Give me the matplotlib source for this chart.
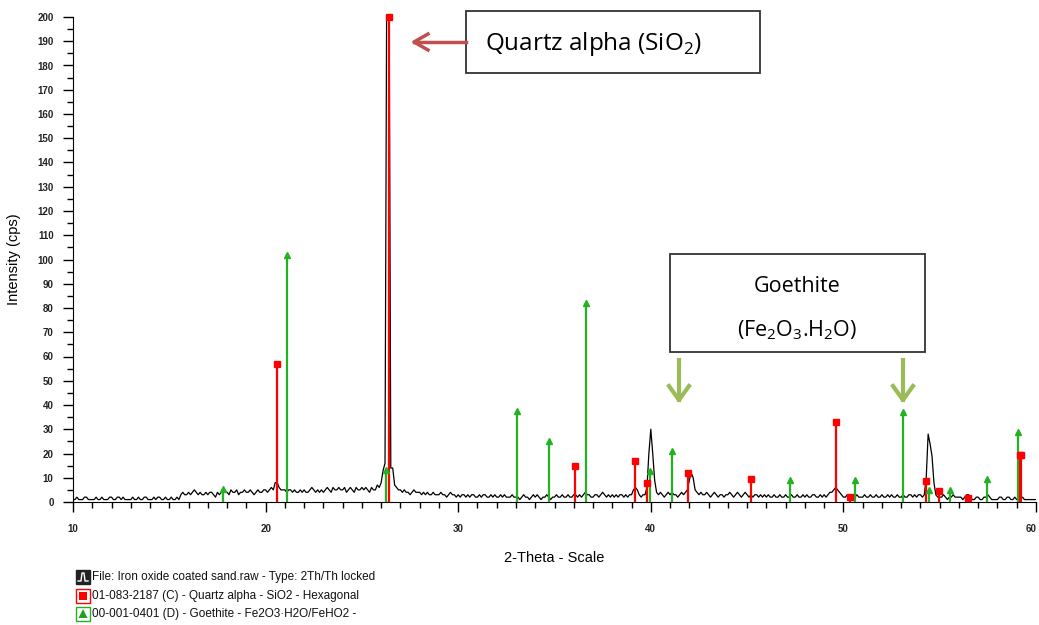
import matplotlib.pyplot as plt
import numpy as np
from matplotlib.patches import Rectangle, Polygon

plt.rcParams['font.family'] = ['Liberation Sans', 'DejaVu Sans']
plt.rcParams['mathtext.fontset'] = 'custom'
plt.rcParams['mathtext.rm'] = 'Open Sans'

# Patrón medido (paso 0.1 grados, 10 a 60)
theta_start, theta_step = 10.0, 0.1
counts = [
    1, 1, 2, 1, 1, 1, 2, 2, 1, 1,
    1, 1, 2, 1, 1, 2, 1, 1, 1, 2,
    2, 1, 1, 2, 2, 1, 2, 1, 1, 1,
    1, 2, 1, 1, 2, 1, 1, 2, 2, 1,
    1, 1, 2, 1, 2, 2, 1, 1, 2, 1,
    1, 2, 1, 1, 2, 1, 3, 4, 3, 3,
    4, 3, 4, 5, 4, 3, 4, 3, 3, 4,
    3, 4, 4, 3, 2, 4, 3, 4, 5, 4,
    4, 3, 5, 4, 4, 5, 3, 4, 4, 5,
    4, 4, 5, 4, 3, 4, 5, 4, 4, 5,
    5, 4, 5, 6, 5, 8, 8, 6, 5, 5,
    5, 4, 5, 5, 4, 5, 4, 4, 5, 4,
    5, 4, 4, 5, 6, 5, 4, 5, 4, 5,
    4, 5, 6, 5, 4, 6, 5, 5, 6, 5,
    5, 6, 4, 5, 6, 5, 4, 6, 5, 5,
    6, 5, 6, 5, 4, 6, 5, 5, 7, 6,
    8, 13, 16, 240, 240, 14, 14, 7, 6, 5,
    5, 4, 5, 4, 4, 3, 4, 5, 4, 4,
    4, 3, 4, 3, 4, 3, 3, 4, 3, 3,
    3, 4, 3, 3, 2, 3, 4, 3, 3, 2,
    3, 2, 3, 3, 2, 3, 2, 3, 3, 2,
    2, 3, 2, 3, 3, 2, 2, 3, 2, 3,
    2, 2, 3, 2, 3, 2, 2, 2, 3, 2,
    2, 2, 1, 2, 3, 2, 2, 1, 2, 3,
    2, 3, 2, 1, 2, 2, 3, 2, 1, 2,
    2, 3, 2, 2, 3, 2, 2, 3, 2, 2,
    3, 3, 2, 3, 2, 3, 4, 3, 3, 2,
    2, 3, 3, 2, 3, 4, 3, 2, 3, 2,
    3, 2, 3, 2, 3, 3, 2, 3, 2, 3,
    3, 5, 6, 5, 3, 2, 3, 3, 6, 20,
    30, 20, 9, 4, 3, 4, 3, 2, 3, 4,
    3, 4, 3, 3, 2, 3, 4, 3, 4, 5,
    9, 12, 10, 5, 4, 3, 4, 3, 3, 4,
    3, 2, 3, 4, 3, 2, 3, 3, 2, 3,
    3, 4, 3, 2, 3, 4, 3, 2, 3, 4,
    3, 2, 3, 2, 3, 3, 2, 3, 2, 3,
    2, 3, 2, 2, 3, 2, 2, 3, 2, 2,
    3, 2, 2, 3, 2, 2, 3, 2, 2, 3,
    2, 3, 2, 2, 3, 3, 2, 2, 3, 2,
    3, 2, 3, 4, 4, 5, 6, 5, 4, 3,
    2, 2, 3, 2, 2, 3, 2, 3, 2, 2,
    2, 3, 2, 2, 3, 2, 2, 3, 2, 2,
    3, 2, 2, 3, 2, 3, 2, 2, 3, 2,
    2, 3, 2, 2, 3, 3, 2, 3, 2, 3,
    3, 2, 3, 10, 28, 24, 19, 8, 3, 2,
    2, 2, 3, 2, 1, 2, 2, 3, 2, 2,
    2, 2, 1, 2, 3, 3, 2, 1, 1, 2,
    2, 1, 1, 2, 2, 3, 2, 1, 1, 1,
    1, 2, 2, 1, 1, 2, 2, 1, 1, 2,
    1, 1, 2, 2, 1, 1, 1, 1, 1, 1,
    1,
]
theta = theta_start + theta_step * np.arange(len(counts))

# Cuarzo alfa (rojo)
quartz_pos = [20.60, 26.39, 36.09, 39.18, 39.79, 41.91, 45.22, 49.64, 50.34,
              54.28, 54.95, 56.47, 59.17, 59.24]
quartz_int = [57, 200, 15, 17, 8, 12, 9.5, 33, 2, 8.5, 4.5, 1.6, 19.5, 19.5]

# Goethita (verde)
goe_pos = [17.80, 21.10, 26.23, 33.05, 34.69, 36.61, 39.98, 41.12, 47.22,
           50.60, 53.10, 54.45, 55.54, 57.44, 59.05]
goe_int = [5.5, 102, 13, 37.5, 25, 82, 12.8, 21, 9, 9, 37, 5, 5, 9.5, 29]

W, H = 1039, 625
fig = plt.figure(figsize=(W / 100, H / 100), dpi=100)
ax = fig.add_axes([73 / W, 1 - 502 / H, (1036 - 73) / W, (502 - 17) / H])


def fx(px):
    return px / W


def fy(py):
    return 1 - py / H


ax.plot(theta, counts, color='black', lw=0.9, zorder=2)
ax.vlines(goe_pos, 0, goe_int, color='#22b222', lw=1.6, zorder=3)
ax.plot(goe_pos, goe_int, '^', color='#22b222', ms=4.5, clip_on=False, zorder=4)
ax.vlines(quartz_pos, 0, quartz_int, color='#ff0000', lw=1.6, zorder=3)
ax.plot(quartz_pos, quartz_int, 's', color='#ff0000', ms=5, clip_on=False, zorder=4)

ax.set_xlim(10, 60)
ax.set_ylim(0, 200)
ax.set_xticks(np.arange(10, 61, 10))
ax.set_xticks(np.arange(10, 61, 1), minor=True)
ax.set_yticks(np.arange(0, 201, 10))
ax.set_yticks(np.arange(0, 201, 5), minor=True)
ax.tick_params(axis='both', which='major', length=7, width=1, labelsize=7,
               labelcolor='#222222')
ax.tick_params(axis='both', which='minor', length=4, width=1)
ax.tick_params(axis='y', pad=7)
ax.tick_params(axis='x', pad=9)
for lab in ax.get_xticklabels() + ax.get_yticklabels():
    lab.set_fontweight('bold')
ax.get_xticklabels()[-1].set_ha('right')
ax.spines['top'].set_visible(False)
ax.spines['right'].set_visible(False)

ax.set_xlabel("2-Theta - Scale", fontsize=10.5, labelpad=12)
ax.set_ylabel("Intensity (cps)", fontsize=10.5, labelpad=12)

# Cuadro cuarzo + flecha
fig.add_artist(Rectangle((fx(466), fy(73)), fx(294), 62 / H, fill=False,
                         ec='#333333', lw=1.3, transform=fig.transFigure))
fig.text(fx(485), fy(44), r"Quartz alpha (SiO$_2$)", fontsize=17.5,
         family='Open Sans', va='center', ha='left')
fig.add_artist(plt.Line2D([fx(414), fx(466)], [fy(42), fy(42)],
                          color='#c0504d', lw=2.5, transform=fig.transFigure))
fig.add_artist(plt.Line2D([fx(428), fx(414), fx(428)], [fy(34), fy(42), fy(50)],
                          color='#c0504d', lw=2.5, transform=fig.transFigure))

# Cuadro goetita + flechas
fig.add_artist(Rectangle((fx(670), fy(352)), fx(255), 98 / H, fill=False,
                         ec='#333333', lw=1.3, transform=fig.transFigure))
fig.text(fx(797), fy(286), "Goethite", fontsize=15.5, family='Open Sans',
         va='center', ha='center')
fig.text(fx(797), fy(330), r"(Fe$_2$O$_3$.H$_2$O)", fontsize=15.5,
         family='Open Sans', va='center', ha='center')
for px in [679, 903]:
    fig.add_artist(plt.Line2D([fx(px), fx(px)], [fy(360), fy(400)],
                              color='#9bbb59', lw=3, transform=fig.transFigure))
    fig.add_artist(plt.Line2D([fx(px - 10), fx(px), fx(px + 10)],
                              [fy(386), fy(400), fy(386)],
                              color='#9bbb59', lw=3, transform=fig.transFigure))

# Leyenda
legend_rows = [
    "File: Iron oxide coated sand.raw - Type: 2Th/Th locked",
    "01-083-2187 (C) - Quartz alpha - SiO2 - Hexagonal",
    "00-001-0401 (D) - Goethite - Fe2O3·H2O/FeHO2 -",
]
row_y = [577, 596, 614]
# icono 1: patrón
fig.add_artist(Rectangle((fx(76), fy(584)), fx(14), 14 / H, fc='#222222',
                         ec='#222222', transform=fig.transFigure))
fig.add_artist(plt.Line2D([fx(78), fx(81), fx(82), fx(84), fx(85), fx(88)],
                          [fy(581), fy(581), fy(573), fy(573), fy(581), fy(581)],
                          color='white', lw=1, transform=fig.transFigure))
# icono 2: cuarzo
fig.add_artist(Rectangle((fx(76), fy(603)), fx(14), 14 / H, fc='white',
                         ec='#ff0000', lw=1, transform=fig.transFigure))
fig.add_artist(Rectangle((fx(79), fy(600)), fx(8), 8 / H, fc='#ff0000',
                         ec='none', transform=fig.transFigure))
# icono 3: goetita
fig.add_artist(Rectangle((fx(76), fy(621)), fx(14), 14 / H, fc='white',
                         ec='#22b222', lw=1, transform=fig.transFigure))
fig.add_artist(Polygon([(fx(78.5), fy(618)), (fx(87.5), fy(618)), (fx(83), fy(609))],
                       closed=True, fc='#22a022', ec='none', transform=fig.transFigure))
for txt, yy in zip(legend_rows, row_y):
    fig.text(fx(92), fy(yy), txt, fontsize=8.5, va='center', ha='left',
             color='#111111')

fig.savefig("out.png", dpi=100)
